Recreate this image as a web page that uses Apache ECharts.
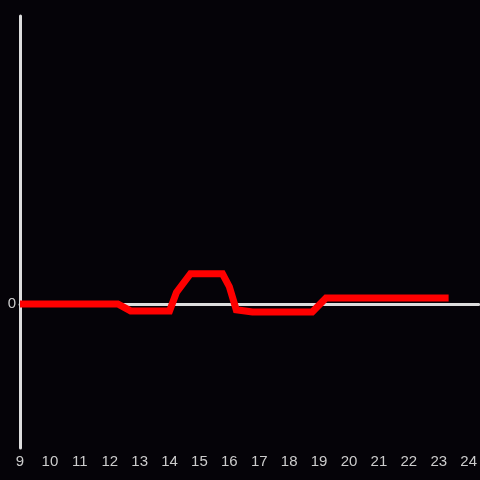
<!DOCTYPE html>
<html>
<head>
<meta charset="utf-8">
<script src="https://cdn.jsdelivr.net/npm/echarts@6/dist/echarts.min.js"></script>
<style>
  html, body { margin: 0; padding: 0; background: #050308; }
  #chart { width: 480px; height: 480px; }
</style>
</head>
<body>
<div id="chart"></div>
<script>
// hour of day -> value
const hours = [9, 12.27, 12.7, 14, 14.23, 14.7, 15.77, 16, 16.23, 16.77, 18.77, 19.23, 23.33];
const values = [0, 0, -0.048, -0.048, 0.08, 0.21, 0.21, 0.12, -0.04, -0.055, -0.055, 0.042, 0.042];
const yTickLabels = ['0'];

const chart = echarts.init(document.getElementById('chart'));
const axisColor = '#dddddd';
const labelColor = '#cccccc';

chart.setOption({
    backgroundColor: '#050308',
    animation: false,
    grid: { left: 20, right: 0, top: 16, bottom: 32 },
    xAxis: [
        {
            type: 'value',
            min: 9,
            max: 24.333,
            interval: 1,
            position: 'bottom',
            axisLine: { show: false, onZero: false },
            axisTick: { show: false },
            splitLine: { show: false },
            axisLabel: {
                color: labelColor,
                fontSize: 15,
                fontFamily: 'Liberation Sans',
                margin: 6,
                showMaxLabel: false,
                formatter: v => (Number.isInteger(v) ? String(v) : '')
            }
        },
        {
            type: 'value',
            min: 9,
            max: 24.333,
            position: 'bottom',
            axisLine: { show: true, onZero: true, lineStyle: { color: axisColor, width: 3 } },
            axisTick: { show: false },
            axisLabel: { show: false },
            splitLine: { show: false }
        }
    ],
    yAxis: {
        type: 'value',
        min: -1,
        max: 2,
        interval: 1,
        axisLine: { show: true, lineStyle: { color: axisColor, width: 3 } },
        axisTick: { show: false },
        splitLine: { show: false },
        axisLabel: {
            color: labelColor,
            fontSize: 15,
            fontFamily: 'Liberation Sans',
            margin: 4,
            formatter: v => (yTickLabels.includes(String(v)) ? String(v) : '')
        }
    },
    series: [
        {
            type: 'line',
            xAxisIndex: 0,
            data: hours.map((h, i) => [h, values[i]]),
            symbol: 'none',
            lineStyle: { color: '#ff0000', width: 7, cap: 'butt', join: 'miter' },
            z: 5
        }
    ]
});
</script>
</body>
</html>
